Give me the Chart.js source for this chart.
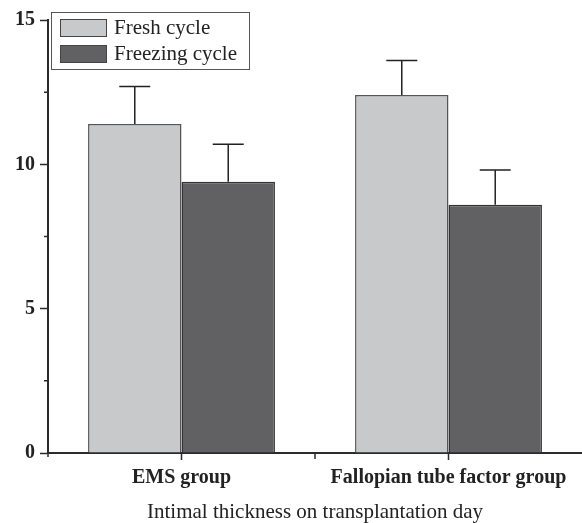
<!DOCTYPE html>
<html>
<head>
<meta charset="utf-8">
<script src="https://cdn.jsdelivr.net/npm/chart.js@4"></script>
<style>
html,body{margin:0;padding:0;background:#fff;}
#wrap{width:582px;height:523px;}
</style>
</head>
<body>
<div id="wrap"><canvas id="c" width="582" height="523"></canvas></div>
<script>
const categories = ['EMS group', 'Fallopian tube factor group'];
const seriesNames = ['Fresh cycle', 'Freezing cycle'];
const freshValues = [11.4, 12.4];
const freshErrors = [1.3, 1.2];
const freezingValues = [9.4, 8.6];
const freezingErrors = [1.3, 1.2];
const yTicks = [0, 5, 10, 15];
const yMinorTicks = [2.5, 7.5, 12.5];
const xTitle = 'Intimal thickness on transplantation day';

const SERIF = "'Liberation Serif', 'Times New Roman', serif";
const AXIS = '#2b2b2b';

const errorBars = {
  id: 'errorBars',
  afterDatasetsDraw(chart) {
    const ctx = chart.ctx, y = chart.scales.y;
    chart.data.datasets.forEach((ds, i) => {
      const meta = chart.getDatasetMeta(i);
      meta.data.forEach((el, j) => {
        const top = y.getPixelForValue(ds.data[j] + ds.errors[j]);
        ctx.save();
        ctx.strokeStyle = '#222';
        ctx.lineWidth = 1.5;
        ctx.beginPath();
        ctx.moveTo(el.x, el.y);
        ctx.lineTo(el.x, top);
        ctx.moveTo(el.x - 15.5, top);
        ctx.lineTo(el.x + 15.5, top);
        ctx.stroke();
        ctx.restore();
      });
    });
  }
};

const extraTicks = {
  id: 'extraTicks',
  afterDraw(chart) {
    const ctx = chart.ctx, y = chart.scales.y, x = chart.scales.x;
    const ca = chart.chartArea;
    ctx.save();
    ctx.strokeStyle = AXIS;
    ctx.lineWidth = 1.5;
    ctx.beginPath();
    yMinorTicks.forEach(v => {
      const p = y.getPixelForValue(v);
      ctx.moveTo(ca.left - 4, p);
      ctx.lineTo(ca.left, p);
    });
    for (let k = 1; k < categories.length; k++) {
      const p = (x.getPixelForValue(k - 1) + x.getPixelForValue(k)) / 2;
      ctx.moveTo(p, ca.bottom);
      ctx.lineTo(p, ca.bottom + 6);
    }
    ctx.moveTo(ca.left, ca.bottom);
    ctx.lineTo(ca.left, ca.bottom + 4);
    ctx.stroke();
    ctx.restore();
  }
};

const boxLegend = {
  id: 'boxLegend',
  afterDraw(chart) {
    const ctx = chart.ctx;
    ctx.save();
    ctx.fillStyle = '#fff';
    ctx.fillRect(51, 12, 199, 58);
    ctx.strokeStyle = '#555';
    ctx.lineWidth = 1;
    ctx.strokeRect(51.5, 12.5, 198, 57);
    chart.data.datasets.forEach((ds, i) => {
      const top = 19 + i * 26;
      ctx.fillStyle = ds.backgroundColor;
      ctx.fillRect(60, top, 47, 18);
      ctx.strokeStyle = '#444';
      ctx.lineWidth = 1;
      ctx.strokeRect(60.5, top + 0.5, 46, 17);
      ctx.fillStyle = '#222';
      ctx.font = '21px ' + SERIF;
      ctx.textBaseline = 'middle';
      ctx.textAlign = 'left';
      ctx.fillText(ds.label, 114, top + 9);
    });
    ctx.restore();
  }
};

new Chart(document.getElementById('c'), {
  type: 'bar',
  data: {
    labels: categories,
    datasets: [
      { label: seriesNames[0], data: freshValues, errors: freshErrors,
        backgroundColor: '#c8c9cb', borderColor: '#555', borderWidth: 1.5,
        categoryPercentage: 0.7, barPercentage: 1.0 },
      { label: seriesNames[1], data: freezingValues, errors: freezingErrors,
        backgroundColor: '#616163', borderColor: '#333', borderWidth: 1.5,
        categoryPercentage: 0.7, barPercentage: 1.0 }
    ]
  },
  options: {
    responsive: false,
    animation: false,
    devicePixelRatio: 1,
    layout: { padding: { top: 20, right: 0, left: 0, bottom: 0 } },
    plugins: { legend: { display: false }, tooltip: { enabled: false } },
    scales: {
      y: {
        min: 0, max: 15,
        afterBuildTicks(s) { s.ticks = yTicks.map(v => ({ value: v })); },
        afterFit(s) { s.width = 48; },
        ticks: { color: '#222', padding: 5, font: { family: SERIF, size: 20, weight: 'bold' } },
        grid: { drawOnChartArea: false, drawTicks: true, tickLength: 8, tickColor: AXIS, tickWidth: 1.5 },
        border: { color: AXIS, width: 2 }
      },
      x: {
        offset: true,
        afterFit(s) { s.height = 70; },
        ticks: { color: '#222', padding: 6, font: { family: SERIF, size: 20, weight: 'bold' } },
        grid: { offset: false, drawOnChartArea: false, drawTicks: true, tickLength: 7, tickColor: AXIS, tickWidth: 1.5 },
        border: { color: AXIS, width: 2 },
        title: { display: true, text: xTitle, color: '#222', padding: { top: 0, bottom: -2 },
                 font: { family: SERIF, size: 21, weight: 'normal' } }
      }
    }
  },
  plugins: [errorBars, extraTicks, boxLegend]
});
</script>
</body>
</html>
